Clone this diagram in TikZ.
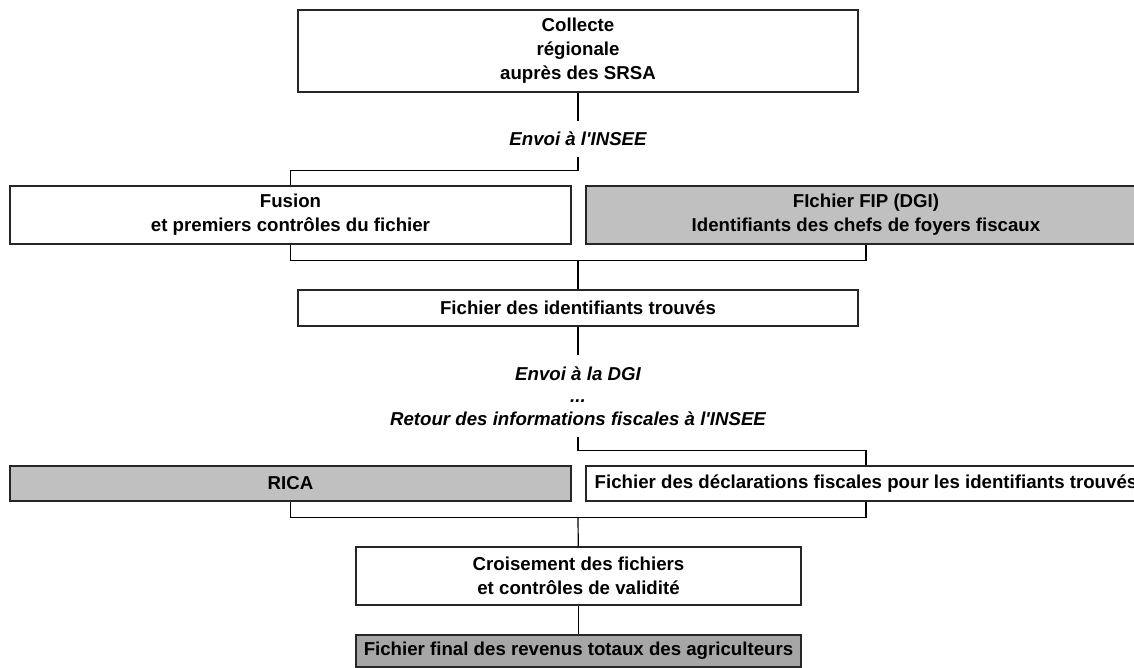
\documentclass[tikz,border=0pt]{standalone}
\usepackage{fontspec}
\setmainfont{Liberation Sans}
\usepackage{tikz}
\definecolor{filegray}{RGB}{192,192,192}
\definecolor{finalgray}{RGB}{166,166,166}
\tikzset{
  stage/.style={rectangle,draw=black!85,line width=1.1pt,fill=white,
    font=\fontsize{14}{18}\selectfont\bfseries,align=center,inner sep=2pt},
  source/.style={stage,fill=filegray},
  result/.style={stage,fill=finalgray},
  transfer/.style={rectangle,font=\fontsize{14}{17}\selectfont\bfseries\itshape,
    align=center,inner sep=0pt},
  link/.style={draw=black,line width=0.9pt}
}

\begin{document}
\begin{tikzpicture}[x=0.75pt,y=-0.75pt]
  \useasboundingbox (0,0) rectangle (1134,667);

  \node[stage,minimum width=420pt,minimum height=61.5pt] (collecte) at (578,51)
    {Collecte\\régionale\\auprès des SRSA};
  \node[transfer,minimum height=27pt] (envoi) at (578,139) {Envoi à l\textquotesingle INSEE};
  \node[stage,minimum width=420.75pt,minimum height=43.5pt] (fusion) at (290.5,215)
    {Fusion\\et premiers contrôles du fichier};
  \node[source,minimum width=420pt,minimum height=43.5pt] (fip) at (866,215)
    {FIchier FIP (DGI)\\Identifiants des chefs de foyers fiscaux};
  \node[stage,minimum width=420pt,minimum height=27pt] (ident) at (578,308)
    {Fichier des identifiants trouvés};
  \node[transfer,minimum height=61.5pt] (retour) at (578,396)
    {Envoi à la DGI\\...\\Retour des informations fiscales à l\textquotesingle INSEE};
  \node[source,minimum width=420.75pt,minimum height=26.25pt] (rica) at (290.5,483.5) {RICA};
  \node[stage,minimum width=420pt,minimum height=26.25pt] (decl) at (866,483.5)
    {Fichier des déclarations fiscales pour les identifiants trouvés};
  \node[stage,minimum width=333.75pt,minimum height=43.5pt] (crois) at (578.5,576)
    {Croisement des fichiers\\et contrôles de validité};
  \node[result,minimum width=333.75pt,minimum height=24pt] (final) at (578.5,651)
    {Fichier final des revenus totaux des agriculteurs};

  \coordinate (joinA) at (578,260);
  \coordinate (joinB) at (578,517);

  \draw[link] (collecte) -- (envoi);
  \draw[link] (envoi.south) -- ++(0,13) -| (fusion.north);
  \draw[link] (fusion.south) -- ++(0,16) -| (fip.south);
  \draw[link] (joinA) -- (ident);
  \draw[link] (ident) -- (retour);
  \draw[link] (retour.south) -- ++(0,13) -| (decl.north);
  \draw[link] (rica.south) -- ++(0,16) -| (decl.south);
  \draw[link] (joinB) -- (crois);
  \draw[link] (crois) -- (final);
\end{tikzpicture}
\end{document}
